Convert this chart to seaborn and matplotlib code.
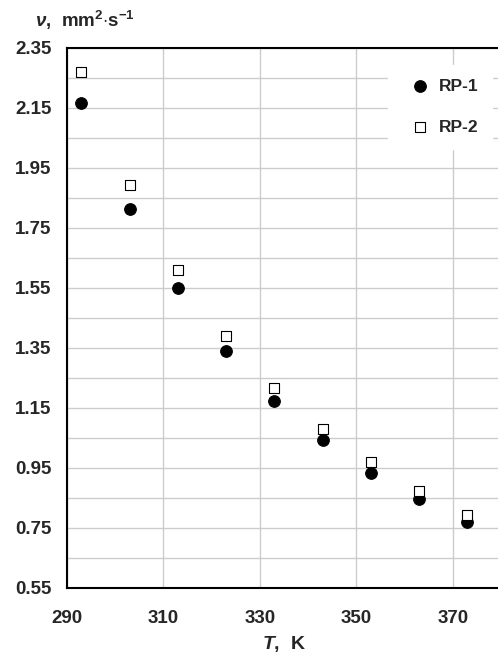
import pandas as pd
import matplotlib
matplotlib.use("Agg")
from matplotlib import pyplot as plt
import seaborn as sns

temps = [293, 303, 313, 323, 333, 343, 353, 363, 373]
rp1 = [2.167, 1.815, 1.55, 1.341, 1.174, 1.043, 0.934, 0.846, 0.770]
rp2 = [2.27, 1.895, 1.61, 1.391, 1.216, 1.079, 0.969, 0.874, 0.793]
x_ticks = [290, 310, 330, 350, 370]
y_ticks = [0.55, 0.75, 0.95, 1.15, 1.35, 1.55, 1.75, 1.95, 2.15, 2.35]

sns.set_style("white")
plt.rcParams["font.family"] = ["Liberation Sans", "DejaVu Sans"]
plt.rcParams["font.weight"] = "bold"
plt.rcParams["mathtext.fontset"] = "custom"
plt.rcParams["mathtext.it"] = "Liberation Sans:italic:bold"
plt.rcParams["mathtext.rm"] = "Liberation Sans:bold"

df = pd.DataFrame({
    "T": temps * 2,
    "nu": rp1 + rp2,
    "fuel": ["RP-1"] * len(temps) + ["RP-2"] * len(temps),
})

fig = plt.figure(figsize=(4.98, 6.61), dpi=100)
ax = fig.add_axes([67 / 498, 73 / 661, 434 / 498, 540 / 661])

sns.scatterplot(ax=ax, data=df[df.fuel == "RP-1"], x="T", y="nu", marker="o",
                color="black", s=70, edgecolor="black", linewidth=0.8,
                label="RP-1", zorder=3)
sns.scatterplot(ax=ax, data=df[df.fuel == "RP-2"], x="T", y="nu", marker="s",
                color="white", s=60, edgecolor="black", linewidth=0.8,
                label="RP-2", zorder=3)

ax.set_xlim(290, 379.8)
ax.set_ylim(0.55, 2.35)
ax.set_xticks(x_ticks)
ax.set_xticks([t + 10 for t in x_ticks], minor=True)
ax.set_xticklabels([str(t) for t in x_ticks], fontweight="bold")
ax.set_yticks(y_ticks)
ax.set_yticks([v + 0.1 for v in y_ticks[:-1]], minor=True)
ax.set_yticklabels([f"{v:.2f}" for v in y_ticks], fontweight="bold")

ax.grid(True, which="major", axis="x", color="#cccccc", linewidth=1)
ax.grid(True, which="both", axis="y", color="#cccccc", linewidth=1)
ax.set_axisbelow(True)

ax.tick_params(axis="both", which="both", direction="in", color="black",
               labelsize=13.5, width=1.3, length=5)
ax.tick_params(axis="x", pad=16)
ax.tick_params(axis="y", pad=11)

for side in ["left", "bottom", "top"]:
    ax.spines[side].set_color("black")
    ax.spines[side].set_linewidth(1.5)
ax.spines["right"].set_visible(False)

ax.set_xlabel("$T$,  K", fontsize=14, fontweight="bold", labelpad=5)
ax.set_ylabel("")
fig.text(35 / 498, 1 - 20 / 661, r"$\nu$,  mm$^2$$\cdot$s$^{-1}$", fontsize=13.5,
         fontweight="bold", va="center", ha="left")

leg = ax.legend(loc="upper right", frameon=True, fontsize=12.5, labelspacing=1.5,
                handletextpad=0.1, borderpad=0.8, bbox_to_anchor=(1.0, 0.985))
leg.get_frame().set_edgecolor("white")
leg.get_frame().set_facecolor("white")
leg.get_frame().set_alpha(1)
for t in leg.get_texts():
    t.set_fontweight("bold")

fig.savefig("out.png", dpi=100)
